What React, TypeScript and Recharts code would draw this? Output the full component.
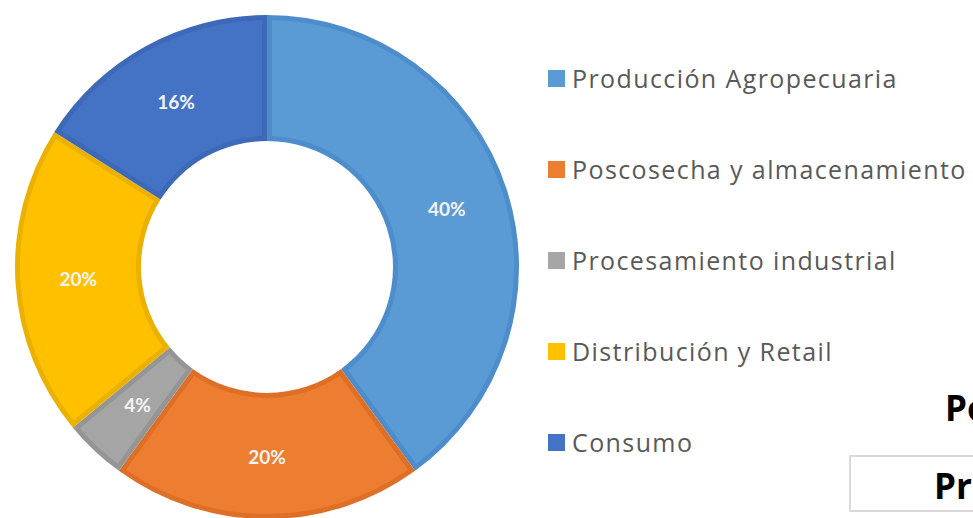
import React from 'react';
import { PieChart, Pie, Cell, Sector } from 'recharts';

const categories = [
  'Producción Agropecuaria',
  'Poscosecha y almacenamiento',
  'Procesamiento industrial',
  'Distribución y Retail',
  'Consumo',
];
const shares = [40, 20, 4, 20, 16];
const fillColors = ['#5B9BD5', '#ED7D31', '#A5A5A5', '#FFC000', '#4472C4'];
const borderColors = ['#4E8DCB', '#DD6F27', '#959595', '#EBB100', '#3E68B8'];

const data = categories.map((name, i) => ({ name, value: shares[i] }));

const RAD = Math.PI / 180;
const BORDER = 5;

function pt(cx: number, cy: number, r: number, a: number) {
  return [cx + r * Math.cos(a * RAD), cy - r * Math.sin(a * RAD)];
}

const SliceShape = (props: any) => {
  const { cx, cy, innerRadius, outerRadius, startAngle, endAngle, index } = props;
  const i = typeof index === 'number' ? index : categories.indexOf(props.payload?.name ?? props.name);
  const fill = fillColors[i] ?? props.fill;
  const dark = borderColors[i] ?? props.fill;
  const lo = Math.min(startAngle, endAngle);
  const hi = Math.max(startAngle, endAngle);
  const ro = outerRadius - BORDER;
  const ri = innerRadius + BORDER;
  const dOut = Math.asin(BORDER / ro) / RAD;
  const dIn = Math.asin(BORDER / ri) / RAD;
  const a1 = hi - dOut;
  const a2 = lo + dOut;
  const b1 = lo + dIn;
  const b2 = hi - dIn;
  const p1 = pt(cx, cy, ro, a1);
  const p2 = pt(cx, cy, ro, a2);
  const p3 = pt(cx, cy, ri, b1);
  const p4 = pt(cx, cy, ri, b2);
  const largeOut = a1 - a2 > 180 ? 1 : 0;
  const largeIn = b2 - b1 > 180 ? 1 : 0;
  const d = `M${p1[0]},${p1[1]} A${ro},${ro} 0 ${largeOut} 1 ${p2[0]},${p2[1]} L${p3[0]},${p3[1]} A${ri},${ri} 0 ${largeIn} 0 ${p4[0]},${p4[1]} Z`;
  return (
    <g>
      <Sector
        cx={cx}
        cy={cy}
        innerRadius={innerRadius}
        outerRadius={outerRadius}
        startAngle={startAngle}
        endAngle={endAngle}
        fill={dark}
        stroke="none"
      />
      <path d={d} fill={fill} stroke="none" />
    </g>
  );
};

const renderLabel = (props: any) => {
  const { cx, cy, midAngle, innerRadius, outerRadius, value } = props;
  const r = (innerRadius + outerRadius) / 2;
  const x = cx + r * Math.cos(-midAngle * RAD);
  const y = cy + r * Math.sin(-midAngle * RAD);
  return (
    <text
      x={x}
      y={y}
      fill="#F4F4F4"
      textAnchor="middle"
      dominantBaseline="central"
      fontFamily="Lato, 'Open Sans', sans-serif"
      fontWeight={700}
      fontSize={19}
    >
      {`${value}%`}
    </text>
  );
};

const legendTop = 78;
const legendStep = 91;

export default function App() {
  return (
    <div
      style={{
        position: 'fixed',
        left: 0,
        top: 0,
        width: 973,
        height: 518,
        overflow: 'hidden',
        background: '#FFFFFF',
      }}
    >
      <PieChart width={973} height={518} margin={{ top: 0, right: 0, bottom: 0, left: 0 }}>
        <Pie
          data={data}
          dataKey="value"
          nameKey="name"
          cx={267}
          cy={267}
          innerRadius={126}
          outerRadius={252}
          startAngle={90}
          endAngle={-270}
          stroke="none"
          isAnimationActive={false}
          labelLine={false}
          label={renderLabel}
          shape={SliceShape}
        >
          {data.map((d, i) => (
            <Cell key={d.name} fill={fillColors[i]} />
          ))}
        </Pie>
      </PieChart>
      {categories.map((c, i) => (
        <div
          key={c}
          style={{
            position: 'absolute',
            left: 548,
            top: legendTop + i * legendStep - 17,
            height: 34,
            display: 'flex',
            alignItems: 'center',
            whiteSpace: 'nowrap',
            fontFamily: "'Open Sans', sans-serif",
            fontSize: 25,
            letterSpacing: 1.4,
            color: '#595959',
          }}
        >
          <span
            style={{
              display: 'inline-block',
              width: 17,
              height: 17,
              background: fillColors[i],
              marginRight: 7,
            }}
          />
          <span>{c}</span>
        </div>
      ))}
      <div
        style={{
          position: 'absolute',
          left: 945,
          top: 390,
          fontFamily: "'Open Sans', sans-serif",
          fontWeight: 700,
          fontSize: 35,
          color: '#000',
          whiteSpace: 'nowrap',
          lineHeight: '35px',
        }}
      >
        Po
      </div>
      <div
        style={{
          position: 'absolute',
          left: 849,
          top: 455,
          width: 200,
          height: 53,
          borderTop: '2px solid #D9D9D9',
          borderLeft: '2px solid #D9D9D9',
          borderBottom: '2px solid #D9D9D9',
        }}
      />
      <div
        style={{
          position: 'absolute',
          left: 934,
          top: 468,
          fontFamily: "'Open Sans', sans-serif",
          fontWeight: 700,
          fontSize: 35,
          color: '#000',
          whiteSpace: 'nowrap',
          lineHeight: '35px',
        }}
      >
        Pro
      </div>
    </div>
  );
}
